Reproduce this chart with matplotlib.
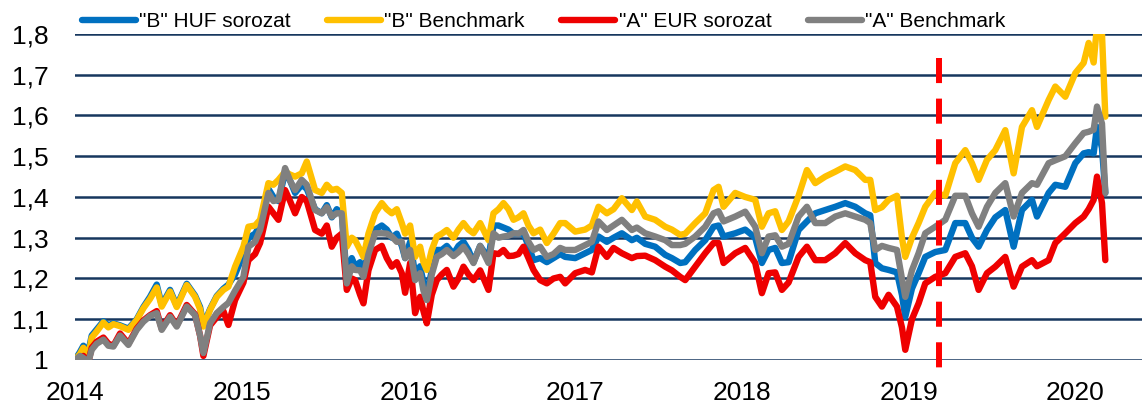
import numpy as np
import matplotlib
matplotlib.use("Agg")
import matplotlib.pyplot as plt
from matplotlib.ticker import FuncFormatter, FixedLocator

plt.rcParams["font.family"] = ["Liberation Sans", "DejaVu Sans"]

# time axis in decimal years
t = [
    2014.00, 2014.03, 2014.05, 2014.08, 2014.10, 2014.13, 2014.17, 2014.20, 2014.23, 2014.27,
    2014.32, 2014.37, 2014.41, 2014.45, 2014.49, 2014.52, 2014.57, 2014.61, 2014.67, 2014.72,
    2014.75, 2014.77, 2014.81, 2014.85, 2014.89, 2014.92, 2014.96, 2015.01, 2015.04, 2015.08,
    2015.11, 2015.16, 2015.19, 2015.22, 2015.26, 2015.29, 2015.32, 2015.36, 2015.39, 2015.44,
    2015.48, 2015.51, 2015.54, 2015.57, 2015.60, 2015.63, 2015.66, 2015.68, 2015.71, 2015.73,
    2015.76, 2015.80, 2015.84, 2015.87, 2015.90, 2015.93, 2015.96, 2015.98, 2016.01, 2016.04,
    2016.07, 2016.09, 2016.11, 2016.14, 2016.17, 2016.20, 2016.23, 2016.27, 2016.30, 2016.33,
    2016.36, 2016.39, 2016.43, 2016.48, 2016.51, 2016.54, 2016.57, 2016.60, 2016.63, 2016.66,
    2016.69, 2016.72, 2016.75, 2016.79, 2016.83, 2016.87, 2016.91, 2016.94, 2017.00, 2017.06,
    2017.10, 2017.14, 2017.19, 2017.23, 2017.28, 2017.34, 2017.37, 2017.42, 2017.48, 2017.54,
    2017.58, 2017.63, 2017.66, 2017.72, 2017.78, 2017.83, 2017.86, 2017.89, 2017.96, 2018.02,
    2018.08, 2018.12, 2018.16, 2018.20, 2018.24, 2018.28, 2018.34, 2018.39, 2018.44, 2018.50,
    2018.56, 2018.62, 2018.68, 2018.74, 2018.77, 2018.80, 2018.84, 2018.88, 2018.93, 2018.96,
    2018.98, 2019.02, 2019.06, 2019.10, 2019.16, 2019.22, 2019.28, 2019.34, 2019.38, 2019.42,
    2019.47, 2019.52, 2019.58, 2019.63, 2019.68, 2019.74, 2019.77, 2019.84, 2019.88, 2019.94,
    2020.00, 2020.05, 2020.08, 2020.11, 2020.13, 2020.16, 2020.18,
]

b_huf = [
    1.000, 1.020, 1.035, 1.020, 1.060, 1.075, 1.095, 1.085, 1.090, 1.085,
    1.077, 1.100, 1.130, 1.155, 1.185, 1.135, 1.172, 1.133, 1.187, 1.158,
    1.130, 1.085, 1.125, 1.157, 1.175, 1.185, 1.210, 1.260, 1.300, 1.310,
    1.330, 1.420, 1.400, 1.390, 1.460, 1.440, 1.410, 1.430, 1.420, 1.370,
    1.360, 1.380, 1.350, 1.370, 1.360, 1.200, 1.250, 1.230, 1.240, 1.210,
    1.270, 1.320, 1.330, 1.320, 1.300, 1.310, 1.280, 1.250, 1.290, 1.210,
    1.230, 1.190, 1.160, 1.220, 1.270, 1.270, 1.280, 1.260, 1.280, 1.290,
    1.270, 1.240, 1.280, 1.250, 1.330, 1.330, 1.325, 1.320, 1.310, 1.310,
    1.310, 1.280, 1.245, 1.250, 1.240, 1.250, 1.260, 1.253, 1.250, 1.262,
    1.270, 1.303, 1.290, 1.300, 1.311, 1.294, 1.300, 1.285, 1.278, 1.258,
    1.250, 1.238, 1.240, 1.270, 1.294, 1.327, 1.330, 1.303, 1.311, 1.320,
    1.300, 1.238, 1.270, 1.275, 1.238, 1.240, 1.319, 1.340, 1.360, 1.368,
    1.376, 1.385, 1.376, 1.360, 1.355, 1.238, 1.225, 1.221, 1.215, 1.160,
    1.106, 1.175, 1.213, 1.253, 1.265, 1.270, 1.336, 1.336, 1.300, 1.278,
    1.319, 1.350, 1.368, 1.278, 1.368, 1.393, 1.352, 1.410, 1.430, 1.425,
    1.483, 1.507, 1.510, 1.507, 1.572, 1.520, 1.410,
]

b_bm = [
    1.000, 1.015, 1.030, 1.010, 1.055, 1.070, 1.092, 1.080, 1.088, 1.083,
    1.074, 1.098, 1.127, 1.150, 1.178, 1.131, 1.168, 1.130, 1.184, 1.155,
    1.125, 1.082, 1.123, 1.155, 1.172, 1.180, 1.229, 1.278, 1.327, 1.330,
    1.344, 1.434, 1.430, 1.442, 1.462, 1.455, 1.450, 1.458, 1.487, 1.417,
    1.410, 1.430, 1.417, 1.420, 1.410, 1.278, 1.300, 1.294, 1.270, 1.253,
    1.310, 1.360, 1.385, 1.370, 1.360, 1.370, 1.336, 1.310, 1.330, 1.253,
    1.278, 1.240, 1.221, 1.270, 1.303, 1.310, 1.319, 1.300, 1.320, 1.336,
    1.320, 1.311, 1.336, 1.294, 1.360, 1.370, 1.385, 1.370, 1.344, 1.350,
    1.360, 1.330, 1.311, 1.320, 1.287, 1.310, 1.336, 1.336, 1.315, 1.320,
    1.330, 1.376, 1.360, 1.370, 1.397, 1.368, 1.389, 1.352, 1.344, 1.327,
    1.320, 1.307, 1.310, 1.336, 1.360, 1.417, 1.425, 1.376, 1.410, 1.400,
    1.393, 1.327, 1.360, 1.365, 1.319, 1.340, 1.403, 1.466, 1.434, 1.450,
    1.462, 1.475, 1.466, 1.442, 1.442, 1.368, 1.375, 1.393, 1.403, 1.300,
    1.253, 1.300, 1.336, 1.376, 1.410, 1.403, 1.483, 1.515, 1.483, 1.442,
    1.491, 1.515, 1.564, 1.458, 1.572, 1.613, 1.572, 1.638, 1.671, 1.646,
    1.704, 1.729, 1.778, 1.730, 1.820, 1.800, 1.597,
]

a_eur = [
    1.000, 1.005, 1.010, 0.995, 1.030, 1.045, 1.055, 1.040, 1.035, 1.065,
    1.040, 1.077, 1.097, 1.110, 1.120, 1.077, 1.110, 1.085, 1.135, 1.112,
    1.060, 1.010, 1.085, 1.105, 1.120, 1.086, 1.147, 1.190, 1.245, 1.260,
    1.287, 1.376, 1.360, 1.344, 1.417, 1.390, 1.360, 1.400, 1.390, 1.319,
    1.310, 1.330, 1.278, 1.300, 1.310, 1.172, 1.200, 1.196, 1.160, 1.139,
    1.220, 1.270, 1.280, 1.250, 1.229, 1.240, 1.213, 1.165, 1.238, 1.115,
    1.155, 1.120, 1.090, 1.160, 1.196, 1.210, 1.221, 1.180, 1.200, 1.229,
    1.210, 1.196, 1.220, 1.172, 1.262, 1.260, 1.270, 1.255, 1.256, 1.260,
    1.278, 1.250, 1.221, 1.196, 1.188, 1.200, 1.204, 1.188, 1.213, 1.221,
    1.215, 1.278, 1.253, 1.275, 1.262, 1.250, 1.255, 1.256, 1.245, 1.229,
    1.220, 1.204, 1.196, 1.229, 1.262, 1.287, 1.287, 1.238, 1.262, 1.275,
    1.238, 1.164, 1.213, 1.215, 1.172, 1.190, 1.253, 1.278, 1.245, 1.245,
    1.262, 1.287, 1.262, 1.245, 1.240, 1.155, 1.131, 1.160, 1.131, 1.080,
    1.025, 1.100, 1.139, 1.188, 1.204, 1.213, 1.253, 1.262, 1.230, 1.172,
    1.213, 1.229, 1.253, 1.180, 1.229, 1.245, 1.230, 1.245, 1.287, 1.311,
    1.336, 1.352, 1.370, 1.393, 1.450, 1.385, 1.245,
]

a_bm = [
    1.000, 1.010, 1.005, 0.995, 1.025, 1.040, 1.050, 1.035, 1.033, 1.060,
    1.037, 1.074, 1.094, 1.108, 1.115, 1.074, 1.106, 1.082, 1.131, 1.110,
    1.060, 1.017, 1.090, 1.115, 1.130, 1.140, 1.170, 1.204, 1.278, 1.290,
    1.319, 1.410, 1.390, 1.393, 1.471, 1.440, 1.417, 1.442, 1.430, 1.368,
    1.360, 1.375, 1.352, 1.360, 1.360, 1.188, 1.230, 1.221, 1.220, 1.204,
    1.260, 1.311, 1.311, 1.310, 1.303, 1.290, 1.290, 1.250, 1.270, 1.196,
    1.213, 1.170, 1.147, 1.210, 1.253, 1.260, 1.270, 1.255, 1.265, 1.278,
    1.260, 1.238, 1.280, 1.238, 1.311, 1.300, 1.303, 1.305, 1.311, 1.310,
    1.319, 1.290, 1.270, 1.278, 1.253, 1.260, 1.275, 1.270, 1.270, 1.282,
    1.290, 1.340, 1.319, 1.330, 1.344, 1.319, 1.325, 1.311, 1.303, 1.294,
    1.282, 1.282, 1.285, 1.303, 1.327, 1.360, 1.365, 1.340, 1.352, 1.364,
    1.327, 1.262, 1.303, 1.306, 1.278, 1.285, 1.352, 1.376, 1.336, 1.336,
    1.352, 1.360, 1.352, 1.344, 1.336, 1.270, 1.280, 1.275, 1.270, 1.200,
    1.155, 1.220, 1.262, 1.311, 1.327, 1.344, 1.403, 1.403, 1.360, 1.327,
    1.376, 1.410, 1.434, 1.352, 1.410, 1.434, 1.430, 1.483, 1.490, 1.500,
    1.532, 1.557, 1.560, 1.565, 1.622, 1.580, 1.410,
]

series_labels = ['"B" HUF sorozat', '"B" Benchmark', '"A" EUR sorozat', '"A" Benchmark']
series_colors = ["#0070C0", "#FFC000", "#EE0000", "#808080"]
marker_date = 2019.18
year_ticks = [2014, 2015, 2016, 2017, 2018, 2019, 2020]
y_ticks = [1.0, 1.1, 1.2, 1.3, 1.4, 1.5, 1.6, 1.7, 1.8]

fig = plt.figure(figsize=(11.42, 4.07), dpi=100)
ax = fig.add_axes([0.0657, 0.1155, 0.9343, 0.801])

for y in y_ticks:
    ax.axhline(y, color="#17375E", lw=1.8, zorder=1)

for vals, lab, col in zip([b_huf, b_bm, a_eur, a_bm], series_labels, series_colors):
    ax.plot(t, vals, color=col, lw=4.6, label=lab, solid_joinstyle="round",
            solid_capstyle="round", zorder=2)

# dashed marker, drawn top-down so the dash pattern starts at the top
ax.plot([marker_date, marker_date], [1.741, 0.951], color="#FF0000", lw=4.3,
        linestyle=(0, (4.2, 2.6)), clip_on=False, zorder=3)

ax.set_xlim(2014.0, 2020.40)
ax.set_ylim(1.0, 1.8)
ax.xaxis.set_major_locator(FixedLocator(year_ticks))
ax.xaxis.set_major_formatter(FuncFormatter(lambda v, p: f"{int(round(v))}"))
ax.yaxis.set_major_locator(FixedLocator(y_ticks))
ax.yaxis.set_major_formatter(
    FuncFormatter(lambda v, p: "1" if abs(v - 1) < 1e-9 else f"{v:.1f}".replace(".", ",")))
ax.tick_params(axis="both", length=0, labelsize=19, colors="black")
ax.tick_params(axis="y", pad=19)
ax.tick_params(axis="x", pad=15)
for s in ax.spines.values():
    s.set_visible(False)

fig.legend(loc="upper left", bbox_to_anchor=(0.066, 0.985), ncol=4, frameon=False,
           fontsize=15, handlelength=2.6, handletextpad=0.15, columnspacing=1.75,
           borderaxespad=0.1, borderpad=0.2)

fig.savefig("out.png", dpi=100)
